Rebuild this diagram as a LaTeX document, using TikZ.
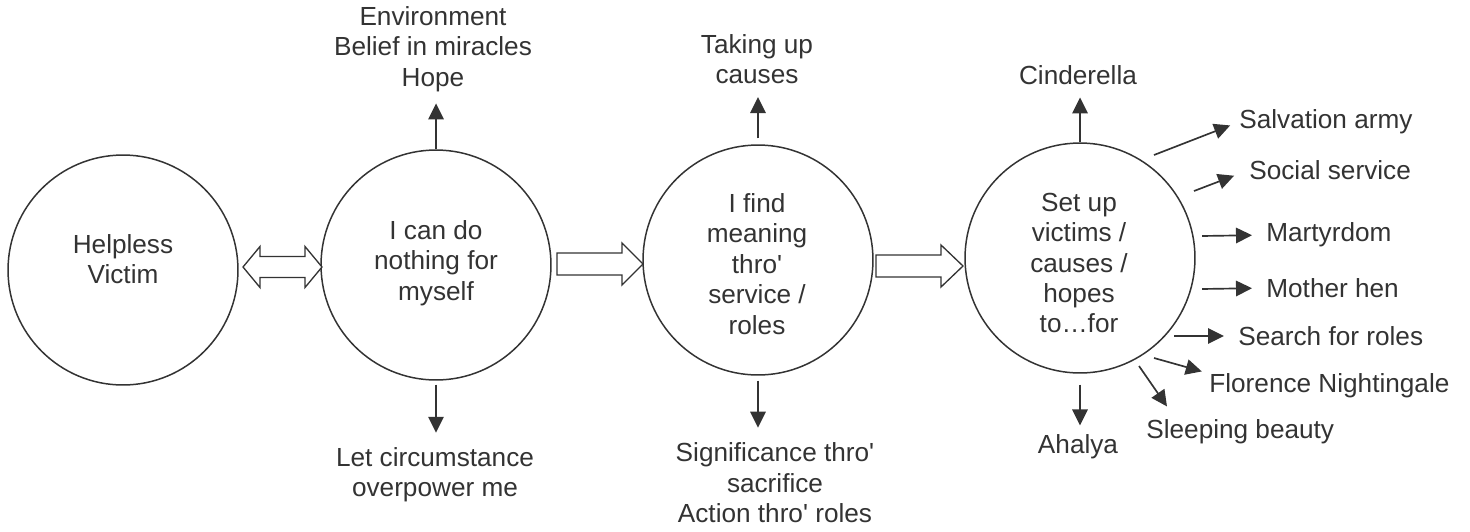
\documentclass[tikz,border=0pt]{standalone}
\usepackage{fontspec}
\setmainfont{Liberation Sans}
\usetikzlibrary{calc,arrows.meta}
\definecolor{ink}{HTML}{333333}
\tikzset{
  circ/.style={circle, draw=ink, line width=0.85pt, minimum size=4.6cm, inner sep=0pt},
  txt/.style={text=ink, align=center, inner sep=0pt, font=\fontsize{14.9}{17.3}\selectfont},
  arr/.style={draw=ink, line width=0.95pt, -{Triangle[length=0.32cm,width=0.31cm]}},
  hollow/.style={draw=ink, line width=0.75pt, fill=white, line join=miter},
}
\def\blockarrow(#1,#2,#3,#4){\draw[hollow] (#1,#4-11) -- (#2,#4-11) -- (#2,#4-21) -- (#3,#4) -- (#2,#4+21) -- (#2,#4+11) -- (#1,#4+11) -- cycle;}

\begin{document}
\begin{tikzpicture}[x=0.02cm, y=-0.02cm]
			\useasboundingbox (0,0) rectangle (1470,531);
			
			%%%%% circles %%%%%
			\node[circ] (victim) at (123,270) {};
			\node[circ] (nothing) at (436,265) {};
			\node[circ] (meaning) at (758,260) {};
			\node[circ] (setup) at (1080,258) {};
			
			\node[txt] (tvictim) at (123,259) {Helpless\\Victim};
			\node[txt] (tnothing) at (436,263) {I can do\\nothing for\\myself};
			\node[txt] (tmeaning) at (757,264) {I find\\meaning\\thro\textquotesingle\\service /\\roles};
			\node[txt] (tsetup) at (1079,263) {Set up\\victims /\\causes /\\hopes\\to…for};
			
			%%%%% block arrows %%%%%
			\draw[hollow] (243,267) -- (260,246.5) -- (260,256.5) -- (305,256.5) -- (305,246.5) -- (322,267)
			  -- (305,287.5) -- (305,277.5) -- (260,277.5) -- (260,287.5) -- cycle;
			\blockarrow(557,622,643,264)
			\blockarrow(876,941,963,266)
			
			%%%%% labels %%%%%
			\node[txt] (env) at (433,49) {Environment\\Belief in miracles\\Hope};
			\node[txt] (circum) at (435,475) {Let circumstance\\overpower me};
			\node[txt] (taking) at (757,59) {Taking up\\causes};
			\node[txt] (signif) at (775,483) {Significance thro\textquotesingle\\sacrifice\\Action thro\textquotesingle{} roles};
			\node[txt] (cind) at (1078,75) {Cinderella};
			\node[txt] (ahalya) at (1078,447) {Ahalya};
			
			\node[txt, anchor=west] (salv) at (1239,122) {Salvation army};
			\node[txt, anchor=west] (social) at (1249,170) {Social service};
			\node[txt, anchor=west] (martyr) at (1266,235) {Martyrdom};
			\node[txt, anchor=west] (hen) at (1266,288) {Mother hen};
			\node[txt, anchor=west] (search) at (1238,336) {Search for roles};
			\node[txt, anchor=west] (florence) at (1209,386) {Florence Nightingale};
			\node[txt, anchor=west] (sleeping) at (1146,432) {Sleeping beauty};
			
			%%%%% arrows %%%%%
			\draw[arr, shorten >=0.23cm] (nothing.north) -- (nothing.north |- env.south);
			\draw[arr, shorten <=0.08cm, shorten >=0.29cm] (nothing.south) -- (nothing.south |- circum.north);
			\draw[arr, shorten <=0.12cm, shorten >=0.26cm] (meaning.north) -- (meaning.north |- taking.south);
			\draw[arr, shorten <=0.1cm, shorten >=0.3cm] (meaning.south) -- (meaning.south |- signif.north);
			\draw[arr, shorten >=0.25cm] (setup.north) -- (setup.north |- cind.south);
			\draw[arr, shorten <=0.22cm, shorten >=0.18cm] (setup.south) -- (setup.south |- ahalya.north);
			
			\coordinate (f1) at (1154,155);
			\coordinate (f2) at (1194,191);
			\coordinate (f3) at (1202,236);
			\coordinate (f4) at (1202,289);
			\coordinate (f5) at (1174,336);
			\coordinate (f6) at (1154,358);
			\coordinate (f7) at (1139,366);
			
			\draw[arr, shorten >=0.19cm] (f1) -- (salv.west);
			\draw[arr, shorten >=0.32cm] (f2) -- (social.west);
			\draw[arr, shorten >=0.28cm] (f3) -- (martyr.west);
			\draw[arr, shorten >=0.28cm] (f4) -- (hen.west);
			\draw[arr, shorten >=0.28cm] (f5) -- (search.west);
			\draw[arr, shorten >=0.15cm] (f6) -- (florence.north west);
			\draw[arr] (f7) -- ([xshift=0.42cm,yshift=0.26cm]sleeping.north west);
			
\end{tikzpicture}
\end{document}
